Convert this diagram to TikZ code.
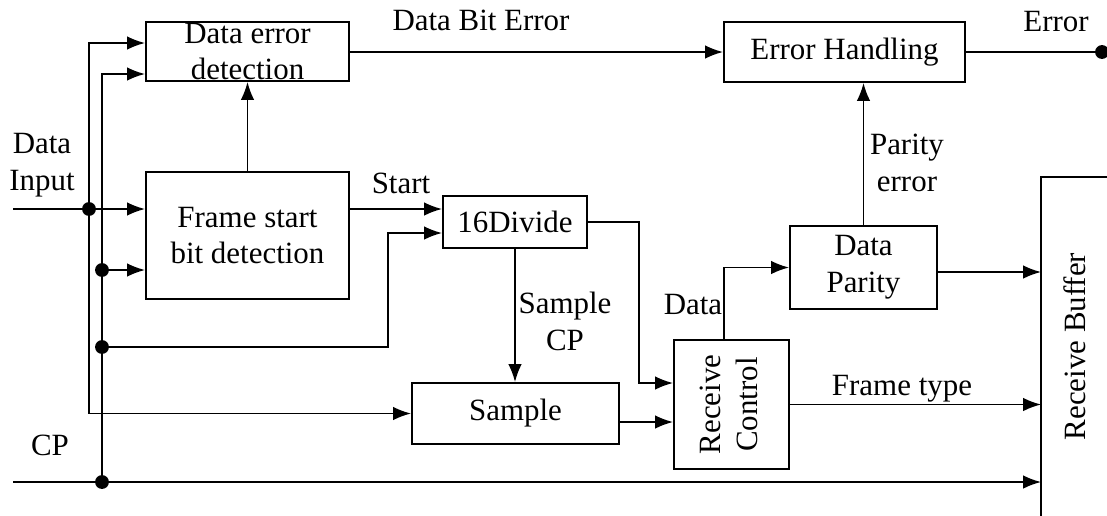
\documentclass[tikz,border=0pt]{standalone}
\usepackage{fontspec}
\setmainfont{Liberation Serif}
\usetikzlibrary{positioning}
\usetikzlibrary{calc}
\usetikzlibrary{arrows.meta}
\tikzstyle{block} = [draw, rectangle, inner sep=0pt, align=center]
\tikzstyle{input} = [coordinate]
\tikzstyle{junction} = [draw, circle, fill, inner sep=0pt, minimum size=3mm]
\tikzstyle{lbl} = [inner sep=0pt, align=center]

\begin{document}
\begin{tikzpicture}[x=0.025cm,y=-0.025cm,line width=1.3pt,>={Latex[length=4.5mm,width=3.4mm]},font=\fontsize{22}{26.2}\selectfont]
    \useasboundingbox (0,0) rectangle (1107,515);
    \node [input, name=din] at (13,209) {};
    \node [input, name=cpin] at (13,482) {};
    \node [block, minimum width=5.075cm, minimum height=1.475cm] (dataerr) at (247.5,51.5) {Data error\\detection};
    \node [block, minimum width=5.075cm, minimum height=3.175cm] (framestart) at (247.5,235.5) {Frame start\\bit detection};
    \node [block, minimum width=3.6cm, minimum height=1.3cm] (divide) at (515,222) {16Divide};
    \node [block, minimum width=5.175cm, minimum height=1.525cm] (sample) at (515.5,413.5) {Sample};
    \node [block, minimum width=2.875cm, minimum height=3.225cm] (recctrl) at (731.5,404.5) {\rotatebox{90}{\begin{tabular}{@{}c@{}}Receive\\Control\end{tabular}}};
    \node [block, minimum width=3.675cm, minimum height=2.075cm] (parity) at (863.5,267.5) {Data\\Parity};
    \node [block, minimum width=6.025cm, minimum height=1.5cm] (errhandle) at (844.5,52) {Error Handling};
    \node [rectangle, inner sep=0pt, minimum width=1.625cm, minimum height=8.425cm] (buffer) at (1074.5,346.5) {\rotatebox{90}{Receive Buffer}};
    \draw (buffer.north east) -- (buffer.north west) -- (buffer.south west);

    \node [junction] (j1) at (89,209) {};
    \node [junction] (j2) at (102,270) {};
    \node [junction] (j3) at (102,347) {};
    \node [junction] (j4) at (102,482) {};
    \node [junction] (errdot) at (1102,52) {};

    % data input bus
    \draw [->] (din) -- (j1.center) -- (j1 -| framestart.west);
    \draw [->] (j1.center) |- (dataerr.west |- 0,43);
    \draw [->] (j1.center) |- (sample.west);
    % clock bus
    \draw [->] (cpin) -- (j4.center) -- (j4 -| buffer.west);
    \draw [->] (j4.center) |- (dataerr.west |- 0,74);
    \draw [->] (j2.center) -- (j2 -| framestart.west);
    \draw [->] (j3.center) -- (j3 -| 388,0) |- (divide.west |- 0,233);

    \draw [->] (framestart.east |- din) -- (divide.west |- din);
    \draw [->] (framestart.north) -- (dataerr.south);
    \draw [->] (divide.east) -- (divide.east -| 639,0) |- (recctrl.west |- 0,383);
    \draw [->] (divide.south) -- (divide.south |- sample.north);
    \draw [->] (sample.east |- 0,422) -- (recctrl.west |- 0,422);
    \draw [->] (recctrl.north -| 724,0) |- (parity.west);
    \draw [->] (parity.east |- 0,272) -- (buffer.west |- 0,272);
    \draw [->] (parity.north) -- (parity.north |- errhandle.south);
    \draw [->] (dataerr.east |- errhandle) -- (errhandle.west);
    \draw (errhandle.east) -- (errdot.center);
    \draw [->] (recctrl.east) -- (recctrl.east -| buffer.west);

    \node [lbl] (ldin) at (42,165) {Data\\Input};
    \node [lbl] (lcp) at (50,445) {CP};
    \node [lbl] (lstart) at (401,183) {Start};
    \node [lbl] (lbit) at (481,20) {Data Bit Error};
    \node [lbl] (lsample) at (565,321) {Sample\\CP};
    \node [lbl] (ldata) at (693,305) {Data};
    \node [lbl] (lparity) at (907,163) {Parity\\error};
    \node [lbl] (lftype) at (902,389) {Frame type};
    \node [lbl] (lerr) at (1056,22) {Error};
\end{tikzpicture}
\end{document}
